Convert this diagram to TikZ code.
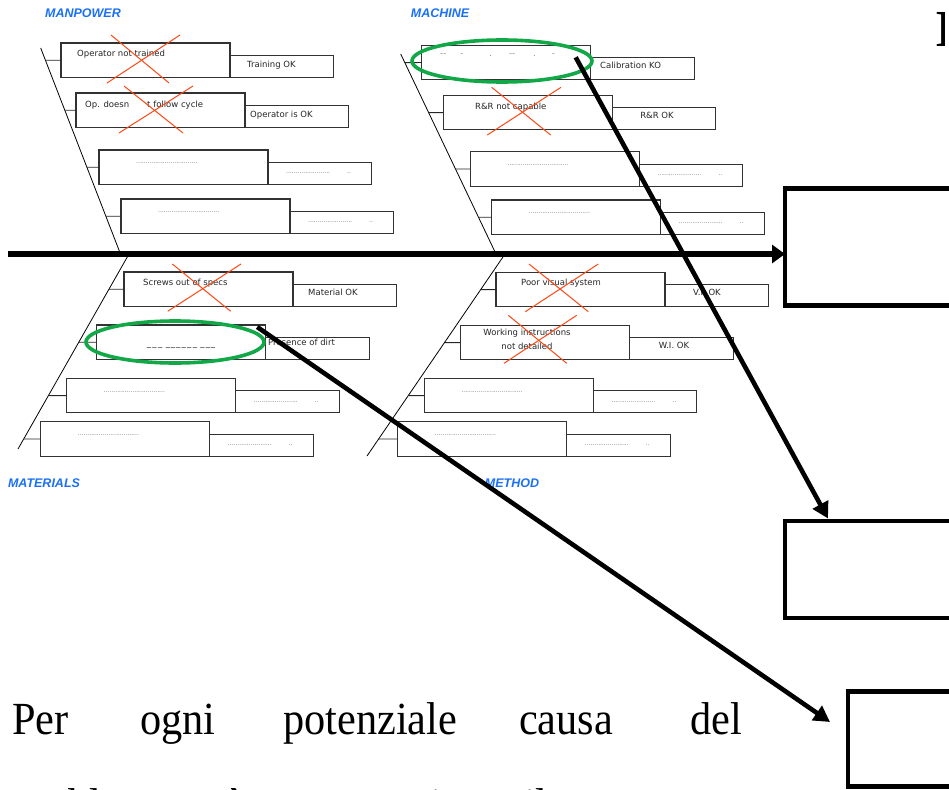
\documentclass[tikz,border=0pt]{standalone}
\usepackage{fontspec}
\setmainfont{Liberation Serif}
\newfontfamily\boxfont{DejaVu Sans}
\newfontfamily\labfont{Liberation Sans}
\usetikzlibrary{arrows.meta,calc}

\definecolor{catblue}{RGB}{26,112,245}
\definecolor{crossred}{RGB}{255,72,20}
\definecolor{ringgreen}{RGB}{18,168,72}
\definecolor{boxline}{RGB}{50,50,50}
\definecolor{dotgray}{RGB}{110,110,110}

\newcommand\causedots{................................}
\newcommand\effectdots{.......................}

\begin{document}
\begin{tikzpicture}[x=1pt,y=-1pt,
  cause/.style={draw=boxline,line width=1.1pt,fill=white,anchor=north west,
    minimum width=169pt,minimum height=34.5pt,inner sep=0pt,outer sep=0pt},
  effect/.style={draw=boxline,line width=1.1pt,fill=white,anchor=south west,
    minimum width=103.5pt,minimum height=22pt,inner sep=0pt,outer sep=0pt},
  spine/.style={line width=0.8pt,black},
  tick/.style={line width=0.9pt,black!85},
  txt/.style={font=\boxfont\fontsize{8.5}{10}\selectfont,inner sep=0pt,anchor=west,text=black!85},
  dotrow/.style={font=\boxfont\fontsize{6}{6}\selectfont,inner sep=0pt,anchor=west,text=dotgray},
  cat/.style={font=\labfont\bfseries\itshape\fontsize{12.5}{13}\selectfont,text=catblue,inner sep=0pt},
  cross/.style={draw=crossred,line width=1pt},
  ring/.style={draw=ringgreen,line width=3.6pt},
  outcome/.style={draw=black,line width=4.5pt,anchor=north west,inner sep=0pt,
    outer sep=0pt,minimum width=220pt},
  pointer/.style={line width=4.6pt,-{Triangle[length=16pt,width=17pt]}},
  body/.style={font=\fontsize{46}{50}\selectfont,inner sep=0pt,anchor=base west,xscale=0.92}
]
\useasboundingbox (0,0) rectangle (949,789);
\clip (0,0) rectangle (949,789);

% ---------- outcome boxes on the right ----------
\node[outcome,minimum height=117pt] (out1) at (785,188.5) {};
\node[outcome,minimum height=97pt]  (out2) at (785,521) {};
\node[outcome,minimum height=95pt]  (out3) at (848,691.5) {};

% partial heading letter at the top right
\begin{scope}
  \clip (930,0) rectangle (944,60);
  \node[font=\bfseries\fontsize{52}{52}\selectfont,inner sep=0pt,anchor=base west] (head) at (935,47) {I};
\end{scope}

% ---------- category labels ----------
\node[cat] (lmp) at (83,13)  {MANPOWER};
\node[cat] (lmc) at (440,13) {MACHINE};
\node[cat] (lmt) at (44,483) {MATERIALS};
\node[cat] (lmd) at (512,483) {METHOD};

% ---------- bones ----------
\coordinate (mpA) at (40.7,48);  \coordinate (mpB) at (120.5,254);
\coordinate (mcA) at (400.7,54); \coordinate (mcB) at (496,254);
\coordinate (mtA) at (18,449);   \coordinate (mtB) at (129,254);
\coordinate (mdA) at (367,456);  \coordinate (mdB) at (505,254);
\draw[spine] (mpA) -- (mpB);
\draw[spine] (mcA) -- (mcB);
\draw[spine] (mtA) -- (mtB);
\draw[spine] (mdA) -- (mdB);

% ---------- MANPOWER ----------
\node[cause] (mp1) at (61,43) {};   \node[effect] (mp1e) at (mp1.south east) {};
\node[cause] (mp2) at (76,93) {};   \node[effect] (mp2e) at (mp2.south east) {};
\node[cause] (mp3) at (99,150) {};  \node[effect] (mp3e) at (mp3.south east) {};
\node[cause] (mp4) at (121,199) {}; \node[effect] (mp4e) at (mp4.south east) {};

% ---------- MACHINE ----------
\node[cause] (mc1) at (421.7,45.3) {};  \node[effect] (mc1e) at (mc1.south east) {};
\node[cause] (mc2) at (443.3,95.3) {};  \node[effect] (mc2e) at (mc2.south east) {};
\node[cause] (mc3) at (470.3,151.7) {}; \node[effect] (mc3e) at (mc3.south east) {};
\node[cause] (mc4) at (491.7,200) {};   \node[effect] (mc4e) at (mc4.south east) {};

% ---------- MATERIALS ----------
\node[cause] (mt1) at (124,272) {};     \node[effect] (mt1e) at (mt1.south east) {};
\node[cause] (mt2) at (96.7,325) {};    \node[effect] (mt2e) at (mt2.south east) {};
\node[cause] (mt3) at (66.7,378.3) {};  \node[effect] (mt3e) at (mt3.south east) {};
\node[cause] (mt4) at (40.7,421.7) {};  \node[effect] (mt4e) at (mt4.south east) {};

% ---------- METHOD ----------
\node[cause] (md1) at (496,272.3) {};   \node[effect] (md1e) at (md1.south east) {};
\node[cause] (md2) at (460.7,325.3) {}; \node[effect] (md2e) at (md2.south east) {};
\node[cause] (md3) at (424.3,378.3) {}; \node[effect] (md3e) at (md3.south east) {};
\node[cause] (md4) at (397.7,421.7) {}; \node[effect] (md4e) at (md4.south east) {};

% ticks joining each cause to its bone
\foreach \b/\s in {mp1/mp,mp2/mp,mp3/mp,mp4/mp,mc1/mc,mc2/mc,mc3/mc,mc4/mc,
                   mt1/mt,mt2/mt,mt3/mt,mt4/mt,md1/md,md2/md,md3/md,md4/md}
  \draw[tick] (intersection of \s A--\s B and \b.west--\b.east) -- (\b.west);

% ---------- texts in the boxes ----------
\node[txt] (mp1t) at (77,54) {Operator not trained};
\node[txt] (mp1r) at (247,65) {Training OK};
\node[txt] (mp2t) at (85,105) {Op. doesn\hspace{18pt}t follow cycle};
\node[txt] (mp2r) at (250,115) {Operator is OK};

\node[txt,text=black!45] (mc1t) at (440,55.5)
  {--\hspace{14pt}-\hspace{26pt}.\hspace{17pt}--\hspace{18pt}.\hspace{16pt}-};
\node[txt] (mc1r) at (600,65.5) {Calibration KO};
\node[txt] (mc2t) at (475,107) {R\&R not capable};
\node[txt,anchor=center] (mc2r) at (657,115.7) {R\&R OK};

\node[txt] (mt1t) at (143,283) {Screws out of specs};
\node[txt] (mt1r) at (308,292.7) {Material OK};
\node[txt,anchor=center] (mt2t) at (181,347)
  {\_\,\_\,\_\,\hspace{2pt}\_\hspace{1pt}\_\hspace{1pt}\_\hspace{1pt}\_\,\_\,\_\,\hspace{2pt}\_\hspace{1pt}\_\hspace{1pt}\_};
\node[txt] (mt2r) at (268,342.3) {Presence of dirt};

\node[txt] (md1t) at (521,283) {Poor visual system};
\node[txt] (md1r) at (693,292.7) {V.I. OK};
\node[txt,anchor=center,align=center] (md2t) at (527,339.2)
  {Working instructions\\[4pt]not detailed};
\node[txt,anchor=center] (md2r) at (674,345.7) {W.I. OK};

% placeholder dots in the empty boxes
\foreach \b in {mp3,mp4,mc3,mc4,mt3,mt4,md3,md4}{
  \node[dotrow] at ($(\b.north west)+(37,13.5)$) {\causedots};
  \node[dotrow] at ($(\b e.north west)+(18,11)$) {\effectdots};
  \node[dotrow] at ($(\b e.north west)+(79,11)$) {..};
}

% ---------- crossed-out causes ----------
\draw[cross] (111,35) -- (169,83);    \draw[cross] (180,35) -- (107,83);
\draw[cross] (124,86) -- (183,133);   \draw[cross] (193,86) -- (119,133);
\draw[cross] (491.7,87.3) -- (550.7,135); \draw[cross] (561,87.3) -- (487.3,135);
\draw[cross] (172.3,264) -- (230.7,311.3); \draw[cross] (241,264) -- (167.7,311.3);
\draw[cross] (529,264) -- (588.3,311.7);   \draw[cross] (598.3,264) -- (525.3,311.7);
\draw[cross] (508.3,315.3) -- (566.7,363.3); \draw[cross] (576.7,315.3) -- (504,363.3);

% ---------- circled causes ----------
\draw[ring] (502,61) ellipse [x radius=90, y radius=21];
\draw[ring] (175,342) ellipse [x radius=89, y radius=21];

% ---------- main arrow (head of the fish) ----------
\coordinate (tail) at (8,254);
\draw[line width=5.5pt,-{Triangle[length=13pt,width=18pt]}] (tail) -- (tail -| out1.west);

% ---------- arrows from circled causes ----------
\coordinate (a1s) at ($(mc1.north east)+(-15,12)$);
\coordinate (a1e) at (828,518.5);
\draw[pointer] (a1s) -- (a1e);
\coordinate (a2s) at ($(mt2.north east)+(-8.5,2)$);
\coordinate (a2e) at (830,722);
\draw[pointer] (a2s) -- (a2e);

% ---------- body text ----------
\node[body] (w1) at (12,734)  {Per};
\node[body] (w2) at (140,734) {ogni};
\node[body] (w3) at (283,734) {potenziale};
\node[body] (w4) at (519,734) {causa};
\node[body] (w5) at (690,734) {del};
\node[body] (v1) at (12,820)  {problema};
\node[body] (v2) at (226,820) {è};
\node[body] (v3) at (287,820) {necessario};
\node[body] (v4) at (524,820) {il};
\end{tikzpicture}
\end{document}
